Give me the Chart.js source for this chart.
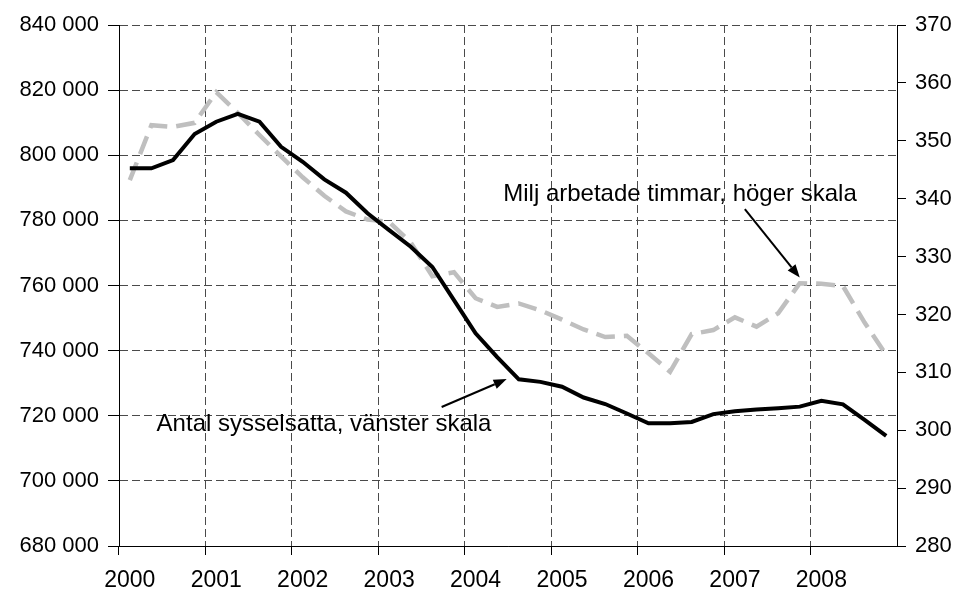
<!DOCTYPE html>
<html>
<head>
  <meta charset="utf-8">
  <script src="https://cdn.jsdelivr.net/npm/chart.js@4.4.1/dist/chart.umd.min.js"></script>
  <style>
    html, body { margin: 0; padding: 0; background: #fff; }
    #wrap { width: 959px; height: 594px; }
  </style>
  <title>Sysselsatta och arbetade timmar</title>
</head>
<body>
  <div id="wrap"><canvas id="chart" width="959" height="594"></canvas></div>

  <script>
    // years on the x axis, one point per quarter
    const years = [2000, 2001, 2002, 2003, 2004, 2005, 2006, 2007, 2008];
    // antal sysselsatta (left scale)
    const employed = [796000, 796000, 798500, 806500, 810300, 812700, 810300, 802600,
                      798000, 792600, 788500, 782200, 777000, 771900, 765700, 755500,
                      745300, 738000, 731200, 730400, 728900, 725600, 723600, 720700,
                      717700, 717700, 718100, 720500, 721400, 721900, 722300, 722800,
                      724600, 723500, 718700, 713800];
    // miljoner arbetade timmar (right scale)
    const hours = [343.2, 352.7, 352.4, 353.1, 358.4, 354.8, 351.0, 347.3,
                   343.7, 340.5, 337.8, 336.4, 336.0, 332.4, 326.6, 327.3,
                   322.8, 321.3, 321.9, 320.7, 319.1, 317.4, 316.1, 316.3,
                   313.3, 310.1, 316.6, 317.3, 319.5, 317.9, 320.2, 325.4,
                   325.3, 324.9, 318.6, 313.0];
    const leftTicks = [680000, 840000, 20000];   // min, max, step
    const rightTicks = [280, 370, 10];

    // quarter labels: year on Q1, blank otherwise
    const quarters = [];
    years.forEach(function (y) { quarters.push(String(y), '', '', ''); });

    // annotations, placed in data units (x = quarter index)
    const notes = [
      { text: 'Milj arbetade timmar, höger skala', axis: 'y2',
        at: [17.28, 339.6], from: [28.46, 338.2], to: [31.0, 326.4] },
      { text: 'Antal sysselsatta, vänster skala', axis: 'y',
        at: [1.24, 715400], from: [14.43, 722700], to: [17.44, 731250] }
    ];

    function spaced(v) {
      return String(v).replace(/\B(?=(\d{3})+(?!\d))/g, ' ');
    }

    const notePlugin = {
      id: 'notes',
      afterDatasetsDraw(chart) {
        const ctx = chart.ctx;
        const xs = chart.scales.x;
        ctx.save();
        ctx.fillStyle = '#000';
        ctx.strokeStyle = '#000';
        ctx.font = '24px "Liberation Sans", Arial, sans-serif';
        ctx.textBaseline = 'alphabetic';
        ctx.textAlign = 'left';
        notes.forEach(function (n) {
          const ys = chart.scales[n.axis];
          ctx.fillText(n.text, xs.getPixelForValue(n.at[0]), ys.getPixelForValue(n.at[1]));
          const x1 = xs.getPixelForValue(n.from[0]), y1 = ys.getPixelForValue(n.from[1]);
          const x2 = xs.getPixelForValue(n.to[0]), y2 = ys.getPixelForValue(n.to[1]);
          const a = Math.atan2(y2 - y1, x2 - x1);
          const hl = 13, hw = 5;
          ctx.lineWidth = 2;
          ctx.beginPath();
          ctx.moveTo(x1, y1);
          ctx.lineTo(x2 - hl * Math.cos(a), y2 - hl * Math.sin(a));
          ctx.stroke();
          ctx.beginPath();
          ctx.moveTo(x2, y2);
          ctx.lineTo(x2 - hl * Math.cos(a) + hw * Math.sin(a), y2 - hl * Math.sin(a) - hw * Math.cos(a));
          ctx.lineTo(x2 - hl * Math.cos(a) - hw * Math.sin(a), y2 - hl * Math.sin(a) + hw * Math.cos(a));
          ctx.closePath();
          ctx.fill();
        });
        ctx.restore();
      }
    };

    Chart.defaults.font.family = '"Liberation Sans", Arial, sans-serif';
    Chart.defaults.font.size = 22;
    Chart.defaults.color = '#000';

    // vertical dashed lines only at inner year boundaries
    const yearGrid = function (c) {
      return (c.index % 4 === 0 && c.index > 0 && c.index < quarters.length) ? '#4a4a4a' : 'rgba(0,0,0,0)';
    };
    const yearTick = function (c) { return c.index % 4 === 0 ? '#000' : 'rgba(0,0,0,0)'; };

    new Chart(document.getElementById('chart'), {
      type: 'line',
      data: {
        labels: quarters,
        datasets: [
          {
            label: 'Milj arbetade timmar',
            data: hours,
            yAxisID: 'y2',
            borderColor: '#bfbfbf',
            borderWidth: 4.5,
            borderDash: [19, 9],
            borderCapStyle: 'butt',
            pointRadius: 0,
            tension: 0,
            order: 2
          },
          {
            label: 'Antal sysselsatta',
            data: employed,
            yAxisID: 'y',
            borderColor: '#000',
            borderWidth: 4,
            pointRadius: 0,
            tension: 0,
            order: 1
          }
        ]
      },
      options: {
        responsive: false,
        animation: false,
        events: [],
        layout: { padding: { top: 25, left: 0, right: 0, bottom: 0 } },
        plugins: { legend: { display: false }, tooltip: { enabled: false } },
        scales: {
          x: {
            type: 'category',
            offset: true,
            grid: { offset: true, color: yearGrid, tickColor: yearTick, tickLength: 9, lineWidth: 1 },
            border: { color: '#000', width: 1, dash: [8, 4] },
            ticks: {
              autoSkip: false, maxRotation: 0, minRotation: 0, padding: 12,
              font: { size: 23 },
              callback: function (v, i) { return quarters[i]; }
            },
            afterFit: function (s) { s.height = 48; }
          },
          y: {
            position: 'left',
            min: leftTicks[0], max: leftTicks[1],
            grid: { color: '#4a4a4a', tickColor: '#000', tickLength: 11, lineWidth: 1 },
            border: { color: '#000', width: 1, dash: [8, 4] },
            ticks: { stepSize: leftTicks[2], padding: 9, callback: function (v) { return spaced(v); } },
            afterFit: function (s) { s.width = 119; }
          },
          y2: {
            position: 'right',
            min: rightTicks[0], max: rightTicks[1],
            grid: { drawOnChartArea: false, color: '#000', tickColor: '#000', tickLength: 9 },
            border: { color: '#000', width: 1 },
            ticks: { stepSize: rightTicks[2], padding: 9 },
            afterFit: function (s) { s.width = 62; }
          }
        }
      },
      plugins: [notePlugin]
    });
  </script>
</body>
</html>
